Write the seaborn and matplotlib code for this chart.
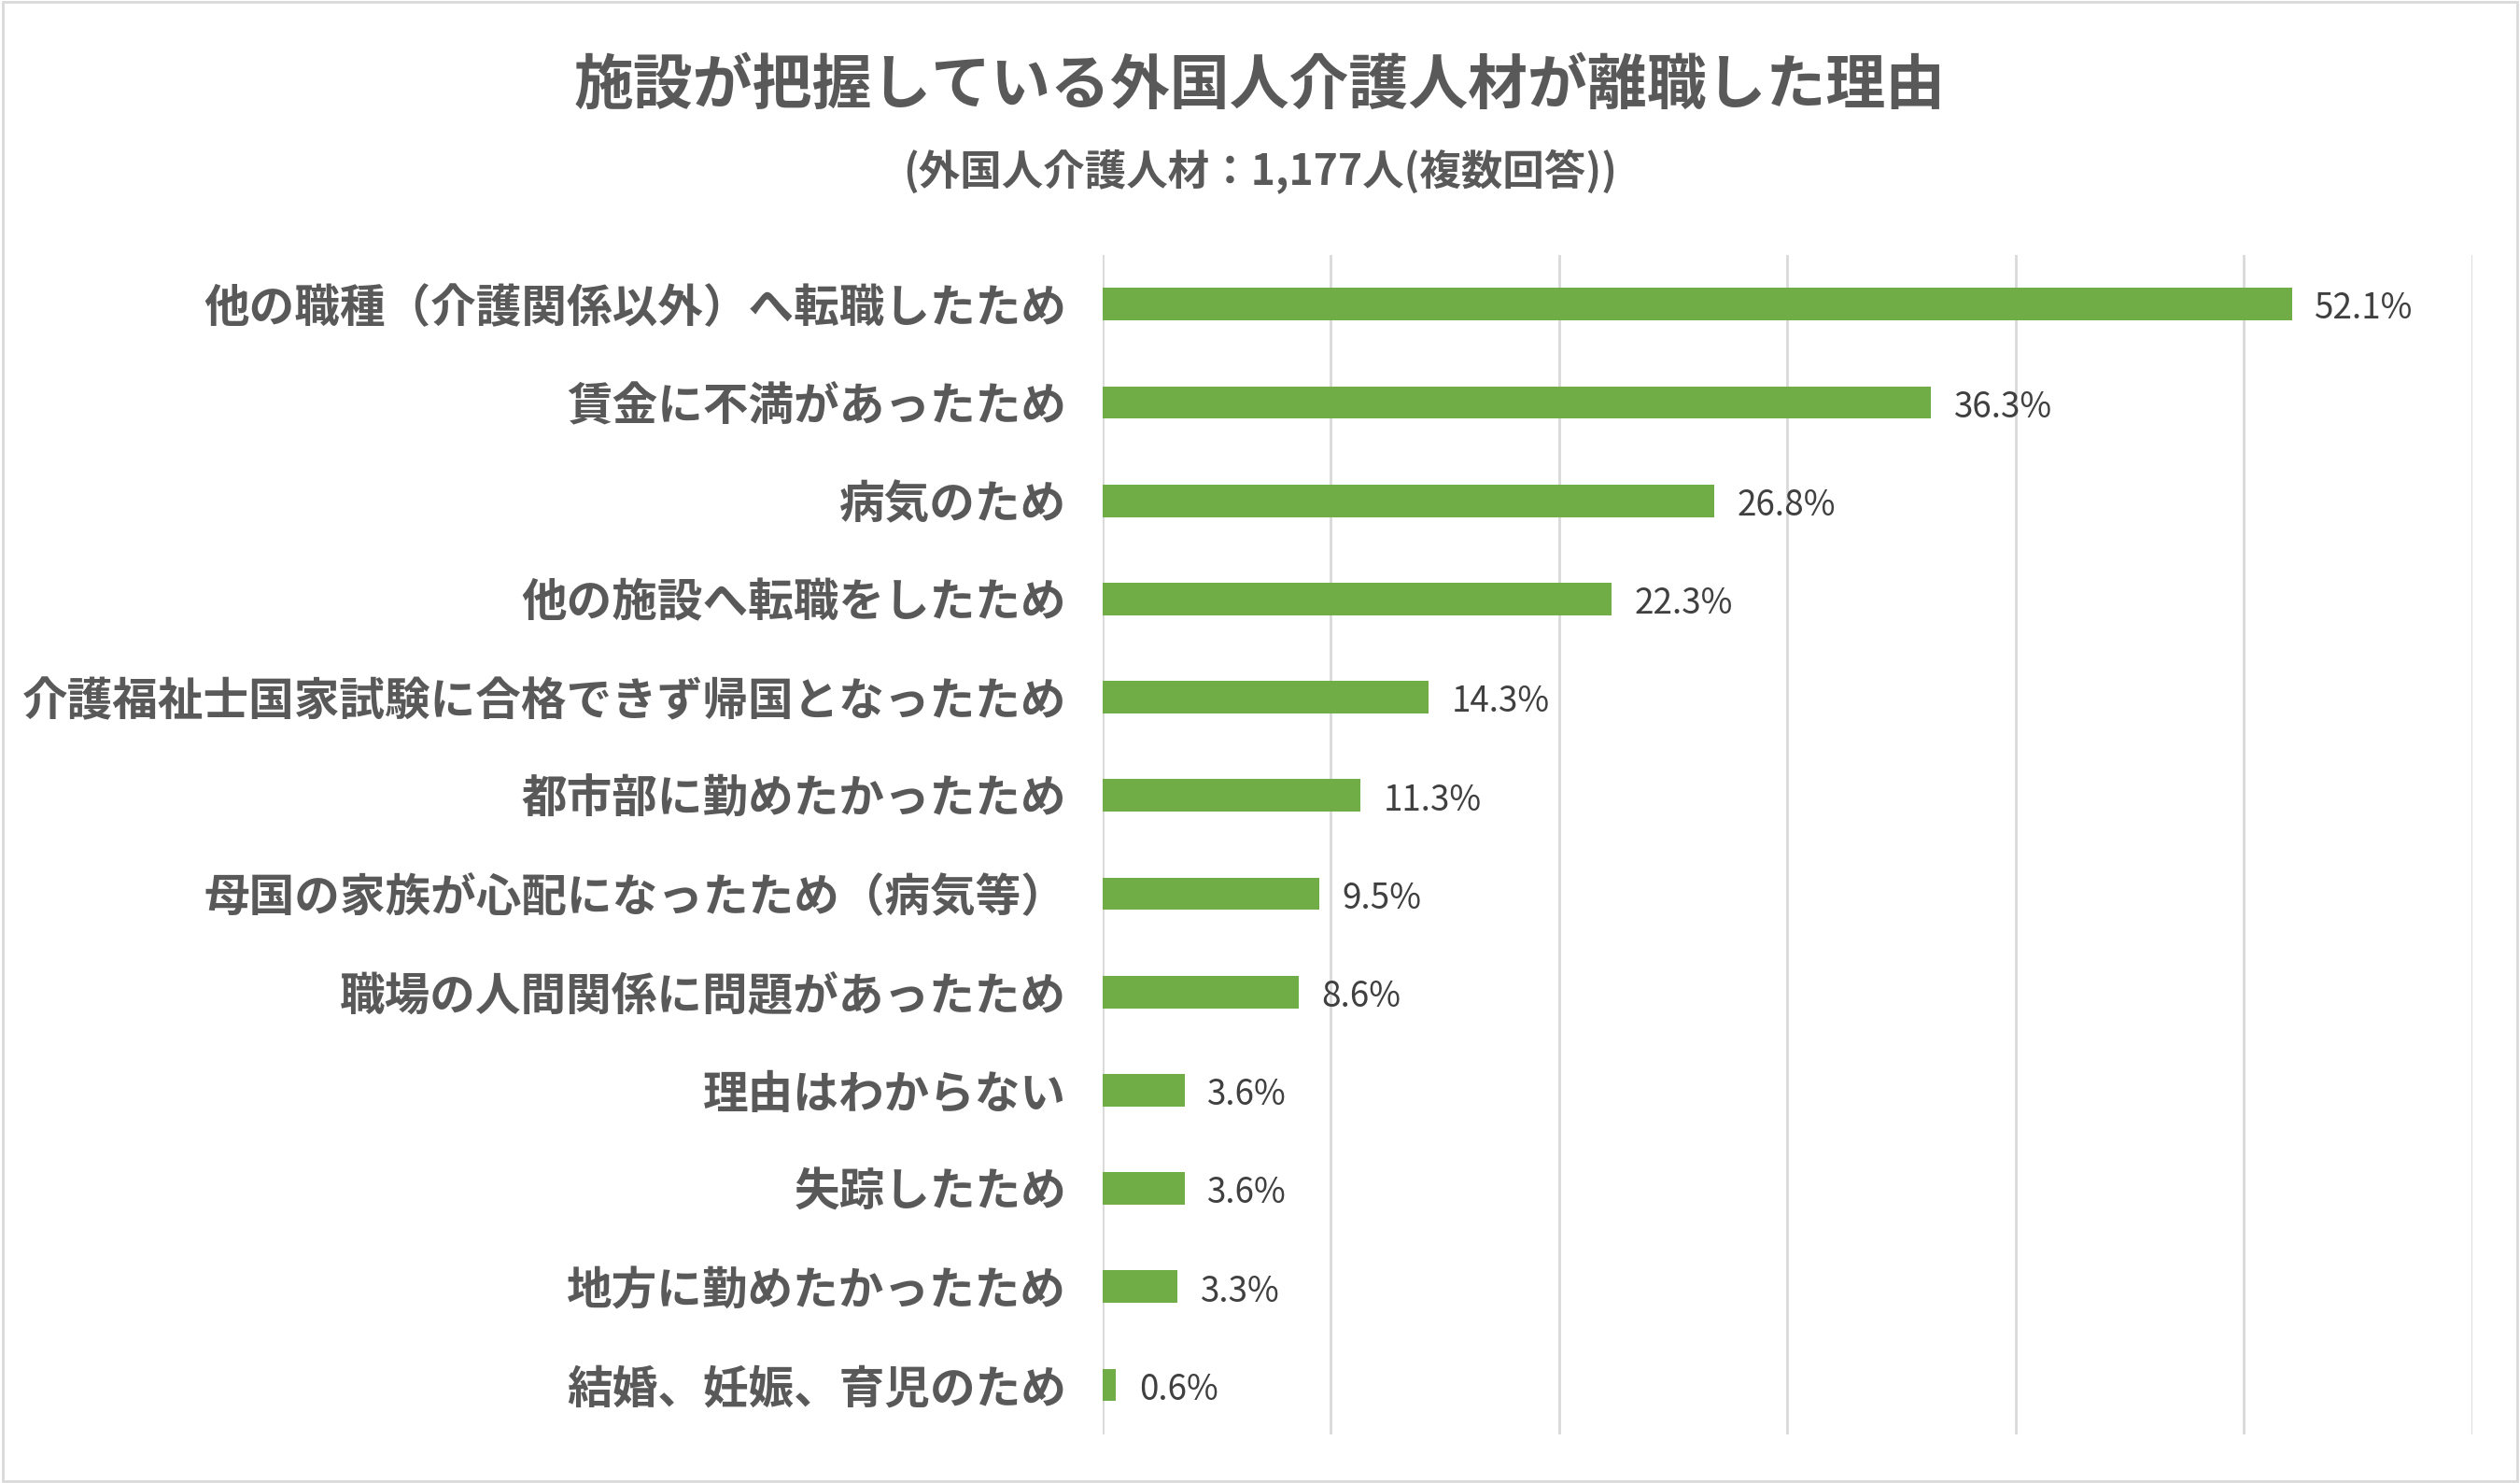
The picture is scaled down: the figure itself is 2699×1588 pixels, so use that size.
import matplotlib
matplotlib.use("Agg")
import matplotlib.pyplot as plt
import seaborn as sns
import pandas as pd

categories = ["他の職種（介護関係以外）へ転職したため", "賃金に不満があったため", "病気のため",
              "他の施設へ転職をしたため", "介護福祉士国家試験に合格できず帰国となったため",
              "都市部に勤めたかったため", "母国の家族が心配になったため（病気等）",
              "職場の人間関係に問題があったため", "理由はわからない", "失踪したため",
              "地方に勤めたかったため", "結婚、妊娠、育児のため"]
values = [52.1, 36.3, 26.8, 22.3, 14.3, 11.3, 9.5, 8.6, 3.6, 3.6, 3.3, 0.6]
title = "施設が把握している外国人介護人材が離職した理由"
subtitle = "(外国人介護人材：1,177人(複数回答))"

plt.rcParams["font.family"] = "Noto Sans CJK JP"
grey = "#595959"
df = pd.DataFrame({"cat": categories, "val": values})

fig = plt.figure(figsize=(26.99, 15.88), dpi=100)
ax = fig.add_axes([0.4375, 0.033, 0.5435, 0.795])
sns.barplot(data=df, x="val", y="cat", color="#70AD47", width=0.33, saturation=1, ax=ax)
ax.set_xlim(0, 60)
ax.set_xticks(range(0, 61, 10))
ax.xaxis.grid(True, color="#D9D9D9", linewidth=2)
ax.set_axisbelow(True)
ax.tick_params(axis="x", labelbottom=False, length=0)
ax.tick_params(axis="y", length=0, labelsize=35, labelcolor=grey, pad=28)
for lbl in ax.get_yticklabels():
    lbl.set_fontweight("bold")
for s in ax.spines.values():
    s.set_visible(False)
ax.set_xlabel("")
ax.set_ylabel("")
for i, v in enumerate(values):
    ax.text(v + 1, i + 0.05, f"{v:.1f}%", va="center", ha="left", fontsize=26.5, color="#404040")
fig.text(0.5, 0.942, title, ha="center", va="center", fontsize=46, fontweight="bold", color=grey)
fig.text(0.5, 0.884, subtitle, ha="center", va="center", fontsize=32, fontweight="bold", color=grey)
fig.patches.append(plt.Rectangle((0.001, 0.001), 0.998, 0.998, transform=fig.transFigure,
                                 fill=False, edgecolor="#D9D9D9", linewidth=2))
fig.savefig("out.png", dpi=100, facecolor="white")
